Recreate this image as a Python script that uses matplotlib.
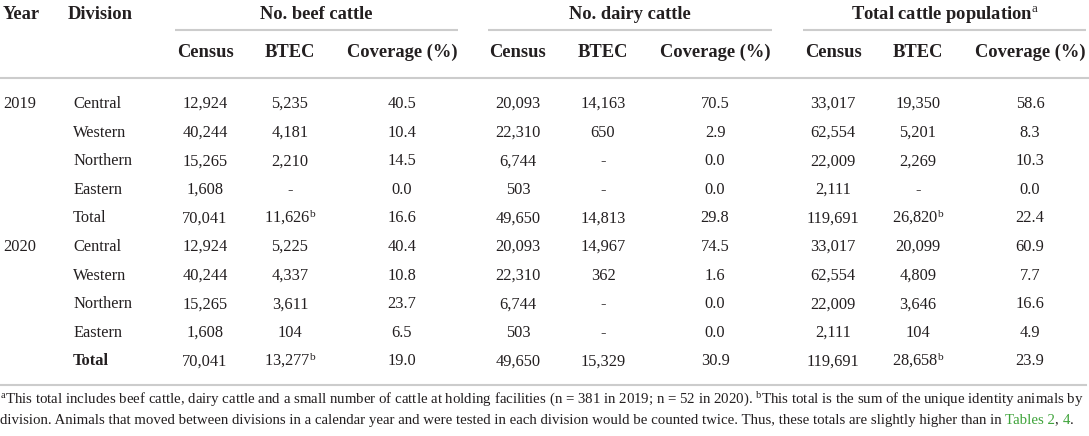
import matplotlib
matplotlib.use("Agg")
import matplotlib.pyplot as plt

plt.rcParams["font.family"] = ["Liberation Serif", "DejaVu Serif"]
plt.rcParams["mathtext.fontset"] = "custom"
plt.rcParams["mathtext.rm"] = "Liberation Serif"
plt.rcParams["mathtext.it"] = "Liberation Serif:italic"
plt.rcParams["mathtext.bf"] = "Liberation Serif:bold"

# table content
years = ["2019", "", "", "", "", "2020", "", "", "", ""]
divisions = ["Central", "Western", "Northern", "Eastern", "Total"] * 2
groups = ["No. beef cattle", "No. dairy cattle", r"Total cattle population$^{\mathrm{a}}$"]
sub_cols = ["Census", "BTEC", "Coverage (%)"]

beef_census = ["12,924", "40,244", "15,265", "1,608", "70,041"] * 2
beef_btec = ["5,235", "4,181", "2,210", "-", r"11,626$^{\mathrm{b}}$",
             "5,225", "4,337", "3,611", "104", r"13,277$^{\mathrm{b}}$"]
beef_cov = ["40.5", "10.4", "14.5", "0.0", "16.6",
            "40.4", "10.8", "23.7", "6.5", "19.0"]

dairy_census = ["20,093", "22,310", "6,744", "503", "49,650"] * 2
dairy_btec = ["14,163", "650", "-", "-", "14,813",
              "14,967", "362", "-", "-", "15,329"]
dairy_cov = ["70.5", "2.9", "0.0", "0.0", "29.8",
             "74.5", "1.6", "0.0", "0.0", "30.9"]

total_census = ["33,017", "62,554", "22,009", "2,111", "119,691"] * 2
total_btec = ["19,350", "5,201", "2,269", "-", r"26,820$^{\mathrm{b}}$",
              "20,099", "4,809", "3,646", "104", r"28,658$^{\mathrm{b}}$"]
total_cov = ["58.6", "8.3", "10.3", "0.0", "22.4",
             "60.9", "7.7", "16.6", "4.9", "23.9"]

bold_rows = [9]  # only the 2020 total is bold in the source

foot1 = (r"$^{\mathrm{a}}$This total includes beef cattle, dairy cattle and a small number of cattle at "
         r"holding facilities (n = 381 in 2019; n = 52 in 2020). $^{\mathrm{b}}$This total is the sum "
         r"of the unique identity animals by")
foot2 = [("division. Animals that moved between divisions in a calendar year and were tested in each "
          "division would be counted twice. Thus, these totals are slightly higher than in ", "#231f20"),
         ("Tables 2", "#3ea33a"), (", ", "#231f20"), ("4", "#3ea33a"), (".", "#231f20")]

# layout
W, H = 1089, 436
TXT = "#231f20"
LINE = "#cccccc"
group_left = [175, 488, 803]
group_right = [458, 772, 1086]
col_off = [30, 115, 227]
row_y0, row_dy = 102.5, 28.6

fig = plt.figure(figsize=(W / 100, H / 100), dpi=100)
ax = fig.add_axes([0, 0, 1, 1])
ax.set_xlim(0, W)
ax.set_ylim(H, 0)
ax.axis("off")

hs = 13.3
ds = 11.8
hb = 6   # centre -> baseline, header
db = 5.5  # centre -> baseline, body

ax.text(3, 13 + hb, "Year", fontsize=hs, fontweight="bold", color=TXT, va="baseline", ha="left")
ax.text(68, 13 + hb, "Division", fontsize=hs, fontweight="bold", color=TXT, va="baseline", ha="left")
for g in range(3):
    cx = (group_left[g] + group_right[g]) / 2
    ax.text(cx, 13 + hb, groups[g], fontsize=hs, fontweight="bold", color=TXT, va="baseline", ha="center")
    ax.plot([group_left[g], group_right[g]], [30, 30], color=LINE, lw=1.5, solid_capstyle="butt")
    for k, name in enumerate(sub_cols):
        ax.text(group_left[g] + col_off[k], 51 + hb, name, fontsize=hs, fontweight="bold",
                color=TXT, va="baseline", ha="center")

ax.plot([0, W], [78, 78], color=LINE, lw=1.5)
ax.plot([0, 1086], [385, 385], color=LINE, lw=1.5)

cols = [[beef_census, beef_btec, beef_cov],
        [dairy_census, dairy_btec, dairy_cov],
        [total_census, total_btec, total_cov]]

for i in range(len(divisions)):
    y = row_y0 + i * row_dy + db
    fw = "bold" if i in bold_rows else "normal"
    ax.text(3, y, years[i], fontsize=ds, color=TXT, va="baseline", ha="left")
    ax.text(73, y, divisions[i], fontsize=ds, color=TXT, va="baseline", ha="left", fontweight=fw)
    for g in range(3):
        for k in range(3):
            ax.text(group_left[g] + col_off[k], y, cols[g][k][i], fontsize=ds, color=TXT,
                    va="baseline", ha="center")

fs = 10.75
ax.text(0, 399 + 4.5, foot1, fontsize=fs, color=TXT, va="baseline", ha="left")

renderer = fig.canvas.get_renderer()


def width_of(s):
    t = ax.text(0, 0, s, fontsize=fs)
    w = t.get_window_extent(renderer).width
    t.remove()
    return w


prefix = ""
for seg, colr in foot2:
    x = width_of(prefix + seg) - width_of(seg) if prefix else 0
    ax.text(x, 419 + 4.5, seg, fontsize=fs, color=colr, va="baseline", ha="left")
    prefix += seg

fig.savefig("out.png", dpi=100)
